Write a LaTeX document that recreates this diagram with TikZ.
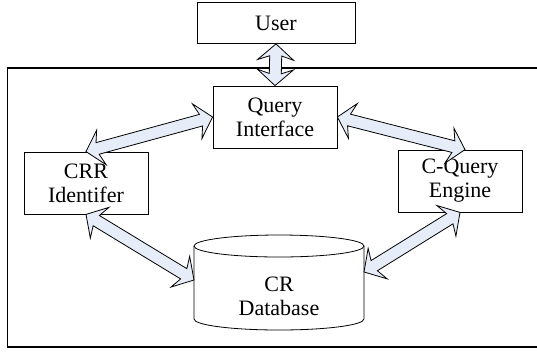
\documentclass[tikz,border=0pt]{standalone}
\usepackage{fontspec}
\setmainfont{Liberation Serif}
\usetikzlibrary{calc}
\definecolor{arrowfill}{RGB}{230,237,248}
\tikzset{
  box/.style={draw, fill=white, line width=0.8pt, align=center, inner sep=0pt,
    minimum width=124pt, minimum height=62pt, font=\fontsize{22}{24}\selectfont},
  label/.style={align=center, inner sep=0pt, font=\fontsize{22}{24}\selectfont},
  blockarrow/.style={draw, fill=arrowfill, line width=0.8pt, line join=miter},
  frameline/.style={line width=1.4pt},
  dbshape/.style={draw, fill=white, line width=0.8pt},
}
\newcommand\dblarrow[2]{%
  \path[blockarrow] let \p1=($(#2)-(#1)$), \n1={veclen(\x1,\y1)}, \n2={atan2(\y1,\x1)} in
    [shift={(#1)}, rotate=\n2]
    (0,0) -- (16,18) -- (12,6) -- (\n1-12,6) -- (\n1-16,18) -- (\n1,0)
    -- (\n1-16,-18) -- (\n1-12,-6) -- (12,-6) -- (16,-18) -- cycle;}
\begin{document}
\begin{tikzpicture}[x=1pt,y=-1pt]
\useasboundingbox (0,0) rectangle (537,354);
% outer frame (right side runs past the picture edge)
\draw[frameline] (545,68) -- (7.5,68) -- (7.5,347) -- (545,347);
% boxes
\node[box, minimum width=158pt, minimum height=41pt] (user) at (276,23) {User};
\node[box] (qi) at (275,117) {Query\\Interface};
\node[box] (crr) at (86,183) {CRR\\Identifer};
\node[box] (cqe) at (460,181) {C-Query\\Engine};
% database cylinder
\draw[dbshape] (194,246) -- (194,319) arc[start angle=180, end angle=360, x radius=85pt, y radius=11pt] -- (364,246);
\draw[dbshape] (279,246) ellipse[x radius=85pt, y radius=11pt];
\node[label] (db) at (279,296) {CR\\Database};
% connector end points
\coordinate (a1) at (user.south);
\coordinate (a2) at (qi.north);
\coordinate (b1) at (crr.north);
\coordinate (b2) at (qi.west);
\coordinate (c1) at (qi.east);
\coordinate (c2) at ($(cqe.north)+(5,0)$);
\coordinate (d1) at (crr.south);
\coordinate (d2) at (194,280);
\coordinate (e1) at (cqe.south);
\coordinate (e2) at (364,272);
% double block arrows
\dblarrow{a1}{a2}
\dblarrow{b1}{b2}
\dblarrow{c1}{c2}
\dblarrow{d1}{d2}
\dblarrow{e1}{e2}
\end{tikzpicture}
\end{document}
